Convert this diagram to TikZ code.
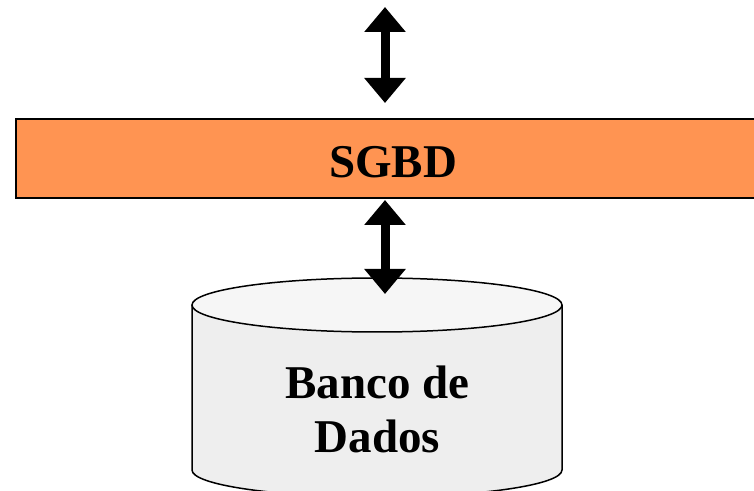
\documentclass[tikz,border=0pt]{standalone}
\usepackage{fontspec}
\setmainfont{Liberation Serif}
\usetikzlibrary{arrows.meta}
\definecolor{sgbdorange}{RGB}{255,148,82}
\definecolor{cylbody}{RGB}{238,238,238}
\definecolor{cyltop}{RGB}{246,246,246}
\tikzset{
  bigtext/.style={font=\bfseries\fontsize{47}{54}\selectfont, inner sep=0pt, align=center},
  blockarrow/.style={line width=9pt, {Triangle[width=40pt,length=25pt]}-{Triangle[width=40pt,length=25pt]}},
  outline/.style={draw=black, line width=1.5pt}
}
\begin{document}
\begin{tikzpicture}[x=1pt,y=1pt]
\clip (0,0) rectangle (754,490);
\fill[white] (0,0) rectangle (754,490);
% SGBD bar
\draw[outline, fill=sgbdorange] (16,292) rectangle (770,371);
\node[bigtext, anchor=base] (sgbd) at (393,312) {SGBD};
% database cylinder
\draw[outline, fill=cylbody] (192,185) -- (192,20) arc[start angle=180, end angle=360, x radius=185, y radius=27] -- (562,185);
\draw[outline, fill=cyltop] (377,185) ellipse[x radius=185, y radius=27];
\node[bigtext, anchor=base] (db) at (377.5,38) {Banco de\\Dados};
% arrows
\coordinate (a1top) at (385,483);
\coordinate (a1bot) at (385,387);
\coordinate (a2top) at (385,290);
\coordinate (a2bot) at (385,196);
\draw[blockarrow] (a1top) -- (a1bot);
\draw[blockarrow] (a2top) -- (a2bot);
\end{tikzpicture}
\end{document}
